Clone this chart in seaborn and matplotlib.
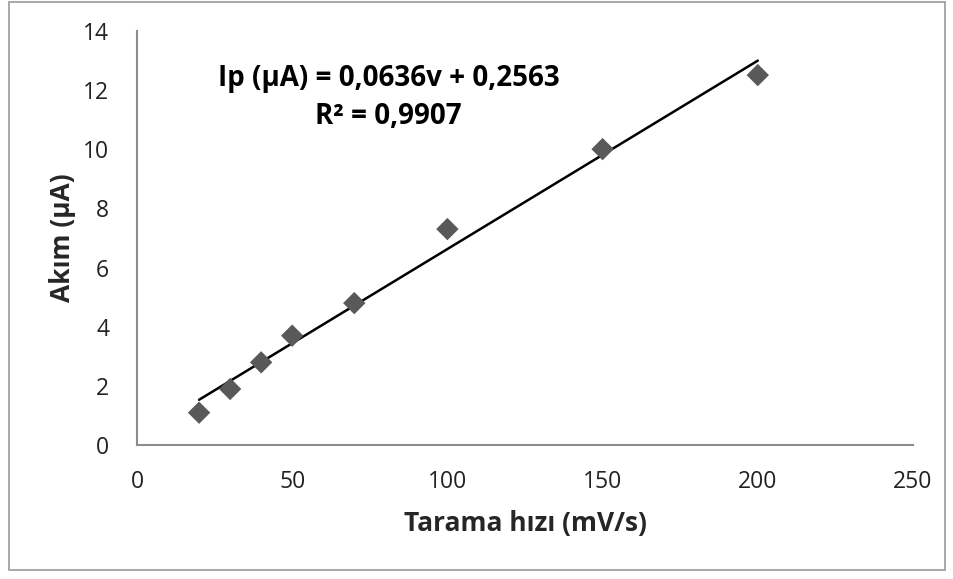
import numpy as np
import pandas as pd
import matplotlib
matplotlib.use("Agg")
import matplotlib.pyplot as plt
import seaborn as sns
from matplotlib.patches import Rectangle

scan_rate = [20, 30, 40, 50, 70, 100, 150, 200]
current = [1.1, 1.9, 2.8, 3.7, 4.8, 7.3, 10.0, 12.5]
x_ticks = [0, 50, 100, 150, 200, 250]
y_ticks = [0, 2, 4, 6, 8, 10, 12, 14]
equation_text = "Ip (µA) = 0,0636v + 0,2563\nR² = 0,9907"
x_label = "Tarama hızı (mV/s)"
y_label = "Akım (µA)"

df = pd.DataFrame({"v": scan_rate, "I": current})

sns.set_style("white")
plt.rcParams["font.family"] = ["Open Sans", "DejaVu Sans"]

fig = plt.figure(figsize=(9.54, 5.79), dpi=100)
ax = fig.add_axes([0.1436, 0.231, 0.8134, 0.716])

sns.regplot(data=df, x="v", y="I", ax=ax, ci=None, truncate=True,
            marker="D",
            scatter_kws=dict(s=130, color="#595959", edgecolors="none", alpha=1, zorder=3),
            line_kws=dict(color="black", lw=1.8, zorder=2))

ax.set_xlim(0, 250)
ax.set_ylim(0, 14)
ax.set_xticks(x_ticks)
ax.set_yticks(y_ticks)
ax.set_xticklabels([str(t) for t in x_ticks])
ax.set_yticklabels([str(t) for t in y_ticks])
ax.tick_params(axis="both", length=0, labelsize=16.5, colors="#222222")
ax.tick_params(axis="x", pad=18)
ax.tick_params(axis="y", pad=20)

for s in ["top", "right"]:
    ax.spines[s].set_visible(False)
for s in ["left", "bottom"]:
    ax.spines[s].set_color("#8c8c8c")
    ax.spines[s].set_linewidth(1.5)

ax.set_xlabel(x_label, fontsize=19, fontweight="bold", labelpad=11)
ax.set_ylabel(y_label, fontsize=19, fontweight="bold", labelpad=5)

ax.text(81, 11.75, equation_text, ha="center", va="center", fontsize=20,
        fontweight="bold", linespacing=1.4, color="black")

fig.patches.append(Rectangle((0.009, 0.016), 0.982, 0.98, transform=fig.transFigure,
                             fill=False, edgecolor="#9a9a9a", lw=1.2))

fig.savefig("out.png", dpi=100)
